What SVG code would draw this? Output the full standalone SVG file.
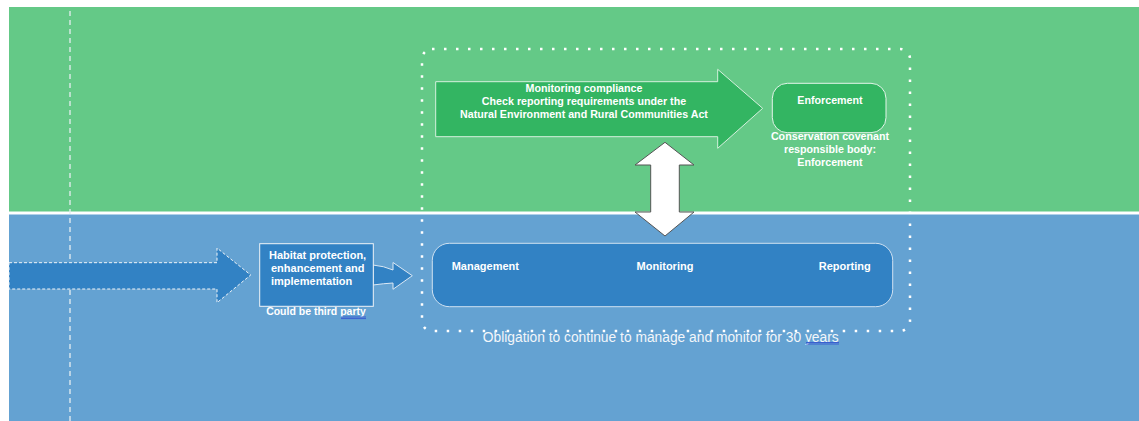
<svg xmlns="http://www.w3.org/2000/svg" width="1139" height="421" viewBox="0 0 1139 421">
  <style>
    .lbl { font-family: "Liberation Sans", Arial, sans-serif; font-weight: bold; fill: #ffffff; }
    .s10 { font-size: 10.7px; }
    .s11 { font-size: 11px; }
    .note { font-family: "Liberation Sans", Arial, sans-serif; font-size: 13.8px; fill: #f2f6fa; }
    .blueNode { fill: #3282c4; }
    .greenNode { fill: #33b562; }
    .spell { stroke: #3a5fd0; stroke-width: 1; fill: none; }
  </style>

  <!-- page and swim lanes -->
  <rect x="0" y="0" width="1139" height="421" fill="#ffffff"/>
  <rect id="lane-upper" x="9" y="7" width="1130" height="204.5" fill="#64c987"/>
  <rect id="lane-lower" x="9" y="214.5" width="1130" height="206.5" fill="#64a2d2"/>

  <!-- timeline marker -->
  <line x1="70" y1="11" x2="70" y2="421" stroke="#e6eef2" stroke-width="1.3" stroke-dasharray="5 4"/>

  <!-- dotted boundary: ongoing obligation -->
  <rect id="obligation-frame" x="422" y="49" width="488" height="282" rx="10" ry="10" fill="none" stroke="#ffffff" stroke-width="2.5" stroke-dasharray="2.5 9.5"/>

  <g id="connectors">
    <!-- incoming process arrow -->
    <path id="lead-in" d="M9,262.7 H217 V248 L250.7,275 L217,302.7 V289 H9 Z" fill="#3282c4" stroke="#f0f4f8" stroke-width="1" stroke-dasharray="3 2"/>
    <!-- callout arrow from habitat box -->
    <path d="M373,265 Q384,266 393,270 V262.5 L412.3,275.7 L393,289.3 V283 Q384,283.5 373,285 Z" class="blueNode" stroke="#dbe8f4" stroke-width="1"/>
    <!-- two-way link between lanes -->
    <path id="two-way" d="M665,142.3 L694,165 H679.3 V212 H694 L665,236 L635,212 H650.7 V165 H635 Z" fill="#ffffff" stroke="#555555" stroke-width="1"/>
  </g>

  <g id="habitat">
    <rect x="259.7" y="243.7" width="113.6" height="62.6" class="blueNode" stroke="#f0f4f8" stroke-width="1"/>
    <text class="lbl s11" x="269" y="259">Habitat protection,</text>
    <text class="lbl s11" x="271" y="272">enhancement  and</text>
    <text class="lbl s11" x="271" y="285">implementation</text>
    <text class="lbl" font-size="10.5" x="316" y="314.5" text-anchor="middle">Could be third party</text>
    <path class="spell" d="M341,317 H366 M341,318.6 H366"/>
  </g>

  <g id="monitoring-compliance">
    <path d="M435.7,81.7 H717.7 V69.3 L762.7,108.3 L717.7,148.3 V136.7 H435.7 Z" class="greenNode" stroke="#d6f0de" stroke-width="1"/>
    <text class="lbl s10" x="584" y="92" text-anchor="middle">Monitoring compliance</text>
    <text class="lbl s10" x="584" y="105.2" text-anchor="middle">Check reporting requirements under the</text>
    <text class="lbl s10" x="584" y="117.8" text-anchor="middle">Natural Environment and Rural Communities Act</text>
  </g>

  <g id="enforcement">
    <rect x="772.3" y="83.3" width="113.7" height="49.4" rx="15" ry="15" class="greenNode" stroke="#e4f5ea" stroke-width="1"/>
    <text class="lbl s10" x="830" y="104" text-anchor="middle">Enforcement</text>
    <text class="lbl s10" x="830" y="140.4" text-anchor="middle">Conservation covenant</text>
    <text class="lbl s10" x="830" y="153" text-anchor="middle">responsible body:</text>
    <text class="lbl s10" x="830" y="166" text-anchor="middle">Enforcement</text>
  </g>

  <g id="management-cycle">
    <rect x="432.3" y="243.3" width="460.4" height="63.4" rx="17" ry="17" class="blueNode" stroke="#cfe1f1" stroke-width="1"/>
    <text class="lbl s11" x="451.7" y="269.5">Management</text>
    <text class="lbl s11" x="665" y="269.5" text-anchor="middle">Monitoring</text>
    <text class="lbl s11" x="870.7" y="269.5" text-anchor="end">Reporting</text>
  </g>

  <g id="obligation-note">
    <text class="note" x="660.7" y="341.5" text-anchor="middle">Obligation to continue to manage and monitor for 30 years</text>
    <path class="spell" d="M806,342.5 H839 M806,344 H839"/>
  </g>
</svg>
